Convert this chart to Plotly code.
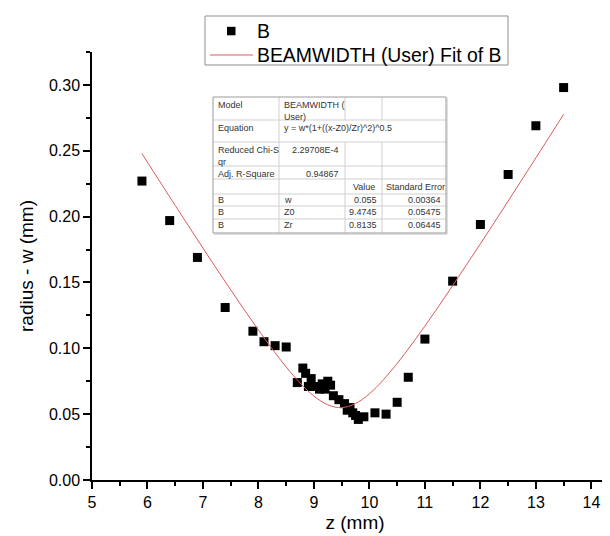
import plotly.graph_objects as go

# ---------------- data ----------------
z_data = [5.9, 6.4, 6.9, 7.4, 7.9, 8.1, 8.3, 8.5, 8.7, 8.8, 8.85, 8.9, 8.95,
          9.05, 9.1, 9.15, 9.2, 9.25, 9.3, 9.35, 9.45, 9.55, 9.6, 9.65, 9.7,
          9.75, 9.8, 9.9, 10.1, 10.3, 10.5, 10.7, 11.0, 11.5, 12.0, 12.5, 13.0, 13.5]
w_data = [0.227, 0.197, 0.169, 0.131, 0.113, 0.105, 0.102, 0.101, 0.074, 0.085, 0.081, 0.071, 0.077,
          0.071, 0.069, 0.073, 0.069, 0.075, 0.072, 0.064, 0.061, 0.058, 0.053, 0.055, 0.051,
          0.049, 0.046, 0.048, 0.051, 0.050, 0.059, 0.078, 0.107, 0.151, 0.194, 0.232, 0.269, 0.298]

fit_z = [5.9, 6.25, 6.5, 6.75, 7.0, 7.25, 7.5, 7.75, 8.0, 8.25, 8.5, 8.75, 8.875, 9.0, 9.125,
         9.25, 9.375, 9.5, 9.625, 9.75, 9.875, 10.0, 10.125, 10.25, 10.5, 10.75, 11.0, 11.25,
         11.5, 11.75, 12.0, 12.25, 12.5, 12.75, 13.0, 13.25, 13.5]
fit_w = [0.2479, 0.2248, 0.2085, 0.1922, 0.1761, 0.1601, 0.1444, 0.1289, 0.1139, 0.0994, 0.0858,
         0.0737, 0.0683, 0.0637, 0.0599, 0.0571, 0.0554, 0.0550, 0.0559, 0.0581, 0.0613, 0.0655,
         0.0704, 0.0760, 0.0885, 0.1023, 0.1169, 0.1320, 0.1476, 0.1634, 0.1794, 0.1955, 0.2118,
         0.2282, 0.2446, 0.2611, 0.2777]

x_ticks = [5, 6, 7, 8, 9, 10, 11, 12, 13, 14]
y_ticks = [0.00, 0.05, 0.10, 0.15, 0.20, 0.25, 0.30]

series_name = "B"
fit_name = "BEAMWIDTH (User) Fit of B"

# fit report table contents
table_info = [("Model", "BEAMWIDTH (\nUser)"),
              ("Equation", "y = w*(1+((x-Z0)/Zr)^2)^0.5"),
              ("Reduced Chi-S\nqr", "2.29708E-4"),
              ("Adj. R-Square", "0.94867")]
param_header = ["Value", "Standard Error"]
param_rows = [("B", "w", "0.055", "0.00364"),
              ("B", "Z0", "9.4745", "0.05475"),
              ("B", "Zr", "0.8135", "0.06445")]

# ---------------- layout geometry ----------------
FW, FH = 610, 536
L, T, R, B = 84, 44, 0, 64
PW, PH = FW - L - R, FH - T - B
FONT = "Arial, Liberation Sans, sans-serif"
FIT_COLOR = "rgb(222,90,90)"


def px(x):
    return (x - L) / PW


def py(y):
    return (T + PH - y) / PH


fig = go.Figure()
fig.add_trace(go.Scatter(x=z_data, y=w_data, mode="markers", name=series_name,
                         marker=dict(symbol="square", size=9, color="black")))
fig.add_trace(go.Scatter(x=fit_z, y=fit_w, mode="lines", name=fit_name,
                         line=dict(color=FIT_COLOR, width=1, shape="spline")))

shapes = []
annotations = []

# ---- legend box (drawn manually) ----
shapes.append(dict(type="rect", xref="paper", yref="paper", x0=px(197), x1=px(500),
                   y0=py(57), y1=py(8), line=dict(color="#8f8f8f", width=1),
                   fillcolor="white", layer="above"))
shapes.append(dict(type="rect", xref="paper", yref="paper", x0=px(219), x1=px(227.5),
                   y0=py(27.3), y1=py(18.8), line=dict(width=0), fillcolor="black"))
shapes.append(dict(type="line", xref="paper", yref="paper", x0=px(202), x1=px(245),
                   y0=py(47), y1=py(47), line=dict(color=FIT_COLOR, width=1)))
lfont = dict(family=FONT, size=19.4, color="black")
annotations.append(dict(xref="paper", yref="paper", x=px(247), y=py(23), text=series_name,
                        showarrow=False, xanchor="left", yanchor="middle", font=lfont))
annotations.append(dict(xref="paper", yref="paper", x=px(247), y=py(47), text=fit_name,
                        showarrow=False, xanchor="left", yanchor="middle", font=lfont))

# ---- fit report table ----
tx0, tx1 = 205, 438
rows_y = [89, 112, 134, 158, 171, 186, 198, 211, 225]
cols_x = [205, 271, 337, 374, 438]
inner = "#cfcfcf"
for yy in rows_y[1:-1]:
    shapes.append(dict(type="line", xref="paper", yref="paper", x0=px(tx0), x1=px(tx1),
                       y0=py(yy), y1=py(yy), line=dict(color=inner, width=1)))
shapes.append(dict(type="line", xref="paper", yref="paper", x0=px(cols_x[1]), x1=px(cols_x[1]),
                   y0=py(rows_y[0]), y1=py(rows_y[-1]), line=dict(color=inner, width=1)))
for cx in cols_x[2:4]:
    shapes.append(dict(type="line", xref="paper", yref="paper", x0=px(cx), x1=px(cx),
                       y0=py(rows_y[0]), y1=py(rows_y[1]), line=dict(color=inner, width=1)))
    shapes.append(dict(type="line", xref="paper", yref="paper", x0=px(cx), x1=px(cx),
                       y0=py(rows_y[2]), y1=py(rows_y[-1]), line=dict(color=inner, width=1)))
shapes.append(dict(type="rect", xref="paper", yref="paper", x0=px(tx0), x1=px(tx1),
                   y0=py(rows_y[-1]), y1=py(rows_y[0]), line=dict(color="#9a9a9a", width=1)))
# slight shadow on right / bottom edges
shapes.append(dict(type="line", xref="paper", yref="paper", x0=px(tx1 + 1), x1=px(tx1 + 1),
                   y0=py(rows_y[-1] + 1), y1=py(rows_y[0] + 1), line=dict(color="#bdbdbd", width=1)))
shapes.append(dict(type="line", xref="paper", yref="paper", x0=px(tx0 + 1), x1=px(tx1 + 1),
                   y0=py(rows_y[-1] + 1), y1=py(rows_y[-1] + 1), line=dict(color="#bdbdbd", width=1)))

tfont = dict(family=FONT, size=9, color="#333333")


def txt(x, y, s, anchor="left"):
    annotations.append(dict(xref="paper", yref="paper", x=px(x), y=py(y), text=s.replace("\n", "<br>"),
                            showarrow=False, xanchor=anchor, yanchor="top", font=tfont,
                            align=anchor))


label_tops = [90, 113, 135, 159]
for (lab, val), yt in zip(table_info, label_tops):
    txt(208, yt, lab)
for i, ((lab, val), yt) in enumerate(zip(table_info, label_tops)):
    if i < 2:
        txt(274, yt, val)
    else:
        txt(333, yt, val, "right")
txt(355.5, 172, param_header[0], "center")
txt(376, 172, param_header[1])
for (a, b, v, e), yt in zip(param_rows, [185, 197, 210]):
    txt(208, yt, a)
    txt(274, yt, b)
    txt(371, yt, v, "right")
    txt(435, yt, e, "right")

axis_common = dict(showline=True, linecolor="black", linewidth=1.5, ticks="outside",
                   ticklen=7, tickwidth=1.5, tickcolor="black", showgrid=False, zeroline=False,
                   tickfont=dict(family=FONT, size=16, color="black"), mirror=False)

fig.update_layout(
    width=FW, height=FH,
    margin=dict(l=L, r=R, t=T, b=B, autoexpand=False),
    paper_bgcolor="white", plot_bgcolor="white",
    font=dict(family=FONT, color="black"),
    xaxis=dict(range=[5, 14.48], tickvals=x_ticks, ticktext=[str(v) for v in x_ticks],
               minor=dict(tickvals=[v + 0.5 for v in x_ticks], ticklen=4, tickwidth=1.5,
                          tickcolor="black", ticks="outside"),
               title=dict(text="z (mm)", font=dict(family=FONT, size=19), standoff=6),
               **axis_common),
    yaxis=dict(range=[0, 0.325], tickvals=y_ticks, ticktext=["%.2f" % v for v in y_ticks],
               minor=dict(tickvals=[v + 0.025 for v in y_ticks], ticklen=4, tickwidth=1.5,
                          tickcolor="black", ticks="outside"),
               title=dict(text="radius - w (mm)", font=dict(family=FONT, size=19), standoff=10),
               **axis_common),
    showlegend=False,
    shapes=shapes,
    annotations=annotations,
)

fig.write_html("out.html")
